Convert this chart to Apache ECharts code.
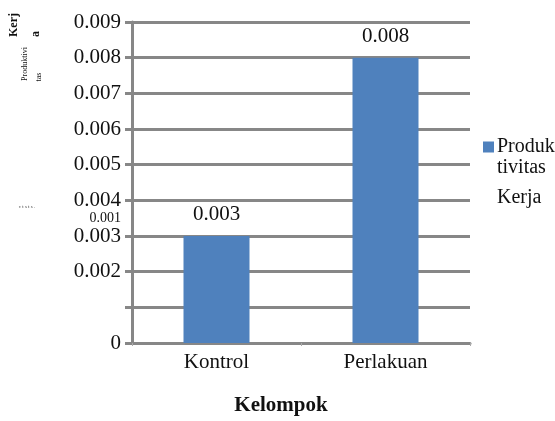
<!DOCTYPE html>
<html>
<head>
<meta charset="utf-8">
<script src="https://cdn.jsdelivr.net/npm/echarts@6/dist/echarts.min.js"></script>
<style>
html,body{margin:0;padding:0;background:#fff;}
#chart{width:555px;height:421px;}
</style>
</head>
<body>
<div id="chart"></div>
<script>
var categories = ['Kontrol', 'Perlakuan'];
var seriesName = 'Produktivitas Kerja';
var values = [0.003, 0.008];
var yTickValues = [0, 0.001, 0.002, 0.003, 0.004, 0.005, 0.006, 0.007, 0.008, 0.009];
var yTickLabels = ['0', '', '0.002', '0.003', '0.004', '0.005', '0.006', '0.007', '0.008', '0.009'];
var valueLabels = ['0.003', '0.008'];
var xAxisTitle = 'Kelompok';
var strayLabel = '0.001';

var FONT = '"Liberation Serif", "Times New Roman", serif';
var GRID = '#878787';

var chart = echarts.init(document.getElementById('chart'), null, {renderer: 'canvas'});
chart.setOption({
  animation: false,
  backgroundColor: '#ffffff',
  grid: {left: 132, right: 85, top: 22, bottom: 72, containLabel: false},
  legend: {
    show: true,
    left: 483, top: 137, padding: 0,
    itemWidth: 11, itemHeight: 11, itemGap: 5,
    icon: 'rect',
    formatter: function () { return 'Produk'; },
    textStyle: {fontFamily: FONT, fontSize: 20, color: '#111', padding: [0, 0, 0, -2]},
    data: [seriesName]
  },
  xAxis: {
    type: 'category',
    data: categories,
    name: xAxisTitle,
    nameLocation: 'middle',
    nameGap: 52,
    nameTextStyle: {fontFamily: FONT, fontSize: 21, fontWeight: 'bold', color: '#111', padding: [0, 40, 0, 0]},
    axisLine: {show: true, lineStyle: {color: GRID, width: 3}},
    axisTick: {show: true, length: 3, lineStyle: {color: '#aaa', width: 1}},
    axisLabel: {fontFamily: FONT, fontSize: 21, color: '#111', margin: 9}
  },
  yAxis: {
    type: 'value',
    min: 0, max: 0.009, interval: 0.001,
    axisLine: {show: true, lineStyle: {color: GRID, width: 3}},
    axisTick: {show: true, length: 7, lineStyle: {color: GRID, width: 3}},
    splitLine: {show: true, lineStyle: {color: GRID, width: 3}},
    axisLabel: {
      fontFamily: FONT, fontSize: 21, color: '#111', margin: 11,
      formatter: function (v) {
        for (var i = 0; i < yTickValues.length; i++) {
          if (Math.abs(yTickValues[i] - v) < 1e-9) return yTickLabels[i];
        }
        return '';
      }
    }
  },
  series: [{
    name: seriesName,
    type: 'bar',
    data: values,
    barWidth: 66,
    itemStyle: {color: '#4f81bd'},
    label: {
      show: true, position: 'top', distance: 11,
      fontFamily: FONT, fontSize: 21, color: '#111',
      formatter: function (p) { return valueLabels[p.dataIndex]; }
    }
  }],
  graphic: [
    {type: 'text', left: 497, top: 158, style: {text: 'tivitas', font: '20px ' + FONT, fill: '#111'}},
    {type: 'text', left: 497, top: 188, style: {text: 'Kerja', font: '20px ' + FONT, fill: '#111'}},
    {type: 'text', x: 121, y: 218, style: {text: strayLabel, font: '14px ' + FONT, fill: '#111', align: 'right', verticalAlign: 'middle'}},
    {type: 'text', x: 14, y: 25, rotation: Math.PI / 2, style: {text: 'Kerj', font: 'bold 12px ' + FONT, fill: '#111', align: 'center', verticalAlign: 'middle'}},
    {type: 'text', x: 36, y: 34, rotation: Math.PI / 2, style: {text: 'a', font: 'bold 12px ' + FONT, fill: '#111', align: 'center', verticalAlign: 'middle'}},
    {type: 'text', x: 25, y: 64, rotation: Math.PI / 2, style: {text: 'Produktivi', font: '8px ' + FONT, fill: '#111', align: 'center', verticalAlign: 'middle'}},
    {type: 'text', x: 39, y: 77, rotation: Math.PI / 2, style: {text: 'tas', font: '8px ' + FONT, fill: '#111', align: 'center', verticalAlign: 'middle'}},
    {type: 'text', x: 27, y: 207, style: {text: 'c t s t s .', font: '5px ' + FONT, fill: '#444', align: 'center', verticalAlign: 'middle'}}
  ]
});
</script>
</body>
</html>
